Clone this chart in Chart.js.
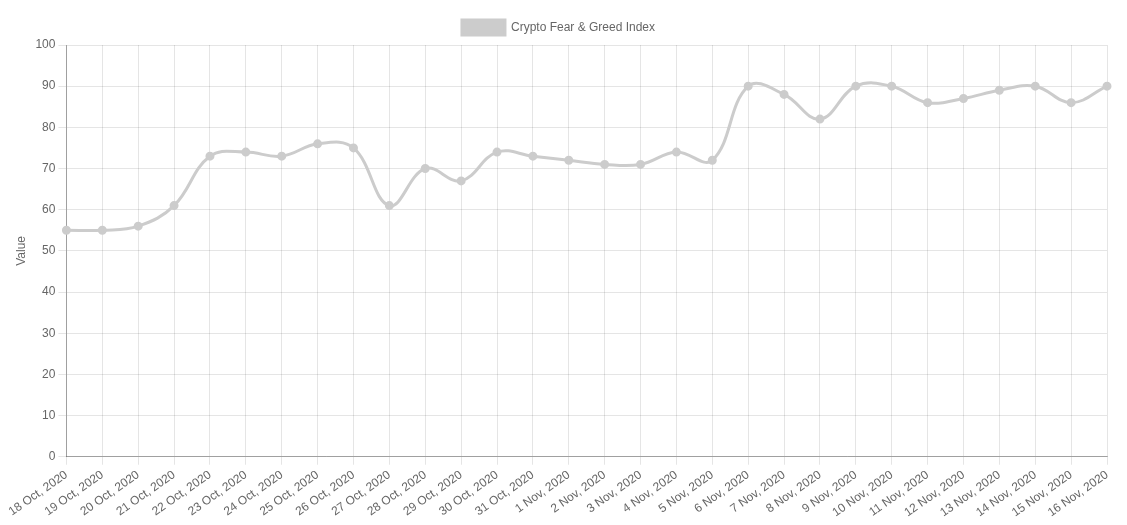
<!DOCTYPE html>
<html>
<head>
<meta charset="utf-8">
<script src="https://cdn.jsdelivr.net/npm/chart.js@4/dist/chart.umd.min.js"></script>
<style>
  html, body { margin: 0; padding: 0; background: #fff; }
  #wrap { width: 1127px; height: 525px; }
</style>
</head>
<body>
<div id="wrap"><canvas id="chart"></canvas></div>
<script>
// Data
const dates = [
  '18 Oct, 2020', '19 Oct, 2020', '20 Oct, 2020', '21 Oct, 2020', '22 Oct, 2020',
  '23 Oct, 2020', '24 Oct, 2020', '25 Oct, 2020', '26 Oct, 2020', '27 Oct, 2020',
  '28 Oct, 2020', '29 Oct, 2020', '30 Oct, 2020', '31 Oct, 2020', '1 Nov, 2020',
  '2 Nov, 2020', '3 Nov, 2020', '4 Nov, 2020', '5 Nov, 2020', '6 Nov, 2020',
  '7 Nov, 2020', '8 Nov, 2020', '9 Nov, 2020', '10 Nov, 2020', '11 Nov, 2020',
  '12 Nov, 2020', '13 Nov, 2020', '14 Nov, 2020', '15 Nov, 2020', '16 Nov, 2020'
];
const indexValues = [
  55, 55, 56, 61, 73, 74, 73, 76, 75, 61,
  70, 67, 74, 73, 72, 71, 71, 74, 72, 90,
  88, 82, 90, 90, 86, 87, 89, 90, 86, 90
];

const fontFamily = '"Helvetica Neue", Helvetica, "Liberation Sans", Arial, sans-serif';
Chart.defaults.font.family = fontFamily;
Chart.defaults.font.size = 12;
Chart.defaults.color = '#666';

new Chart(document.getElementById('chart'), {
  type: 'line',
  data: {
    labels: dates,
    datasets: [{
      label: 'Crypto Fear & Greed Index',
      data: indexValues,
      borderColor: 'rgb(204,204,204)',
      backgroundColor: 'rgb(204,204,204)',
      pointBackgroundColor: 'rgb(204,204,204)',
      pointBorderColor: 'rgb(204,204,204)',
      borderWidth: 3,
      pointRadius: 3,
      tension: 0.4,
      fill: false
    }]
  },
  options: {
    responsive: true,
    maintainAspectRatio: false,
    animation: false,
    layout: { padding: { top: 11, right: 20, bottom: 2, left: 10 } },
    plugins: {
      legend: {
        display: true,
        position: 'top',
        labels: { boxWidth: 43, boxHeight: 15, padding: 9, color: '#666' }
      },
      tooltip: { enabled: false }
    },
    scales: {
      x: {
        grid: { color: 'rgba(0,0,0,0.1)', tickLength: 8 },
        border: { color: 'rgba(0,0,0,0.3)' },
        ticks: { maxRotation: 35, minRotation: 35, autoSkip: false, color: '#666' }
      },
      y: {
        min: 0,
        max: 100,
        grid: { color: 'rgba(0,0,0,0.1)', tickLength: 8 },
        border: { color: 'rgba(0,0,0,0.3)' },
        ticks: { stepSize: 10, color: '#666' },
        title: { display: true, text: 'Value', color: '#666' }
      }
    }
  }
});
</script>
</body>
</html>
